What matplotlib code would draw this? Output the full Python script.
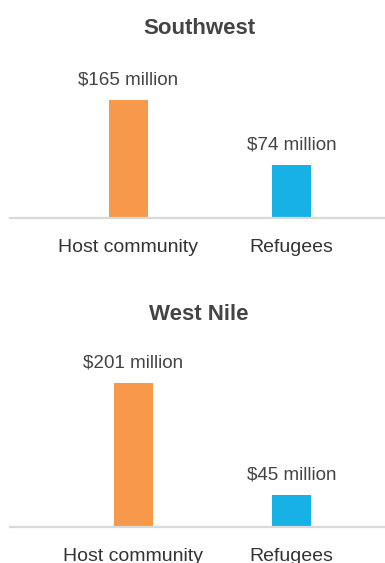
import matplotlib
matplotlib.use("Agg")
import matplotlib.pyplot as plt

plt.rcParams['font.family'] = ['Liberation Sans', 'DejaVu Sans']

# Data: spending (USD millions) by region and group
regions = ["Southwest", "West Nile"]
categories = ["Host community", "Refugees"]
southwest_values = [165, 74]
west_nile_values = [201, 45]
value_labels_sw = ["$165 million", "$74 million"]
value_labels_wn = ["$201 million", "$45 million"]

colors = ["#F7984A", "#17B1E6"]
text_dark = "#444444"
axis_gray = "#D9D9D9"

W, H = 385, 563
DPI = 100
fig = plt.figure(figsize=(W / DPI, H / DPI), dpi=DPI)

px_per_million = 0.713   # vertical scale shared by both panels


def panel(baseline_px, centers_px, values, labels, title, title_y_px):
    left_px, right_px = 10, 385
    height_px = 170
    ax = fig.add_axes([left_px / W, (H - baseline_px) / H,
                       (right_px - left_px) / W, height_px / H])
    spacing = centers_px[1] - centers_px[0]
    x0 = (left_px - centers_px[0]) / spacing
    x1 = (right_px - centers_px[0]) / spacing
    ax.set_xlim(x0, x1)
    ax.set_ylim(0, height_px / px_per_million)
    bar_w = 39 / spacing
    xs = list(range(len(values)))
    bars = ax.bar(xs, values, width=bar_w, color=colors, zorder=2)
    for b, lab in zip(bars, labels):
        ax.annotate(lab, (b.get_x() + b.get_width() / 2, b.get_height()),
                    xytext=(0, 20), textcoords="offset pixels",
                    ha="center", va="center", fontsize=13.6,
                    color=text_dark, annotation_clip=False)
    for s in ["top", "right", "left"]:
        ax.spines[s].set_visible(False)
    ax.spines["bottom"].set_color(axis_gray)
    ax.spines["bottom"].set_linewidth(1.6)
    ax.set_yticks([])
    ax.set_xticks(xs)
    ax.set_xticklabels(categories, fontsize=14, color="#333333")
    ax.tick_params(axis="x", length=0, pad=15.5)
    fig.text(199 / W, (H - title_y_px) / H, title, ha="center", va="center",
             fontsize=16, fontweight="bold", color=text_dark)
    return ax


panel(217.5, (128.5, 291.5), southwest_values, value_labels_sw, regions[0], 28)
panel(526.7, (133.5, 291.5), west_nile_values, value_labels_wn, regions[1], 314)

fig.savefig("out.png", dpi=DPI, facecolor="white")
